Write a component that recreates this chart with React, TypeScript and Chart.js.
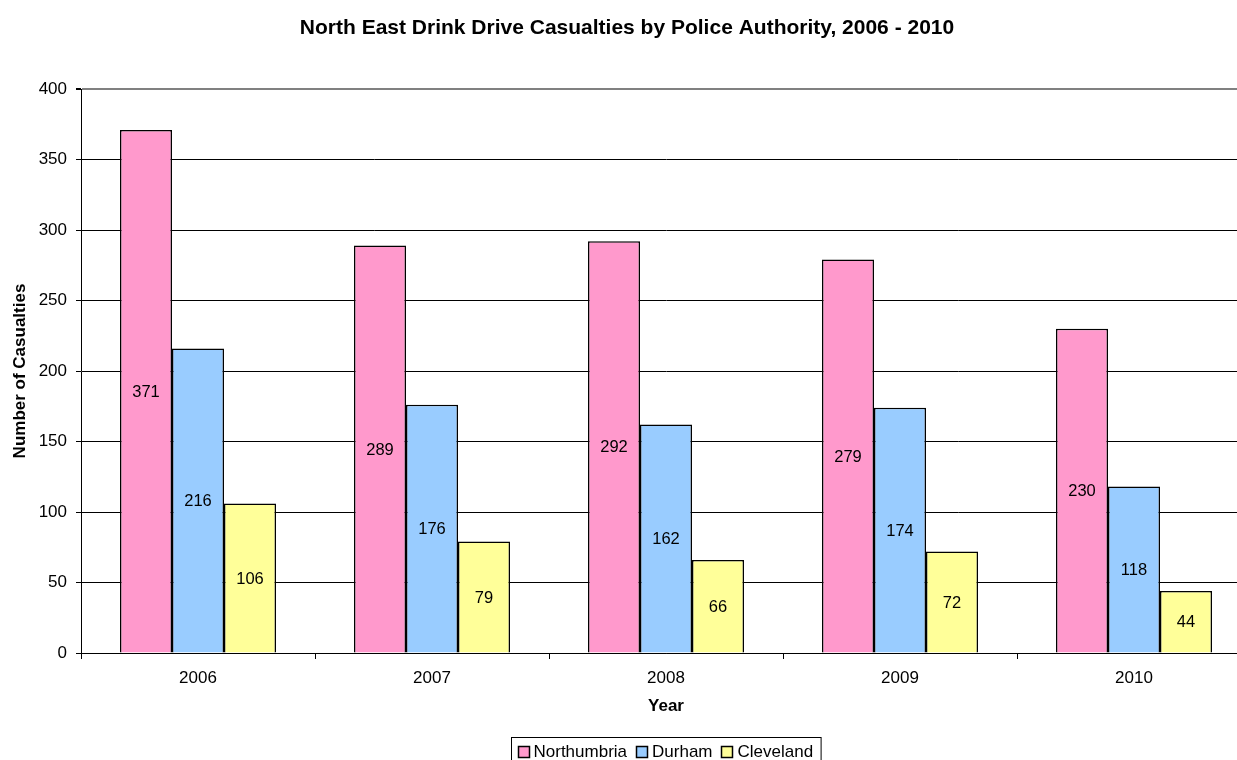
import React, { useEffect, useRef } from "react";
import { Chart, registerables } from "chart.js";

Chart.register(...registerables);

const years = ["2006", "2007", "2008", "2009", "2010"];
const northumbria = [371, 289, 292, 279, 230];
const durham = [216, 176, 162, 174, 118];
const cleveland = [106, 79, 66, 72, 44];
const seriesNames = ["Northumbria", "Durham", "Cleveland"];
const seriesColors = ["#FF99CC", "#99CCFF", "#FFFF99"];
const chartTitle = "North East Drink Drive Casualties by Police Authority, 2006 - 2010";
const xTitle = "Year";
const yTitle = "Number of Casualties";

const FONT = "'Liberation Sans', Arial, sans-serif";

// Heading centred over the visible page width
const titlePlugin = {
  id: "pageTitle",
  afterDraw(chart: any) {
    const ctx = chart.ctx;
    ctx.save();
    ctx.font = `bold 21px ${FONT}`;
    ctx.fillStyle = "#000";
    ctx.textAlign = "center";
    ctx.textBaseline = "middle";
    ctx.fillText(chartTitle, 627, 28);
    ctx.restore();
  },
};

// Value written in the middle of each bar
const valueLabels = {
  id: "valueLabels",
  afterDatasetsDraw(chart: any) {
    const ctx = chart.ctx;
    ctx.save();
    ctx.font = `16.5px ${FONT}`;
    ctx.fillStyle = "#000";
    ctx.textAlign = "center";
    ctx.textBaseline = "middle";
    chart.data.datasets.forEach((ds: any, di: number) => {
      const meta = chart.getDatasetMeta(di);
      meta.data.forEach((bar: any, i: number) => {
        const { x, y, base } = bar.getProps(["x", "y", "base"], true);
        ctx.fillText(String(ds.data[i]), x, (y + base) / 2 + 1);
      });
    });
    ctx.restore();
  },
};

// Boxed legend under the x-axis title
const boxedLegend = {
  id: "boxedLegend",
  afterDraw(chart: any) {
    const ctx = chart.ctx;
    const area = chart.chartArea;
    ctx.save();
    ctx.font = `17px ${FONT}`;
    const sq = 11;
    const gapSqText = 5;
    const gapItems = 9;
    const padL = 6;
    const padR = 8;
    const widths = chart.data.datasets.map((ds: any) => ctx.measureText(ds.label).width);
    let total = padL + padR;
    widths.forEach((w: number, i: number) => {
      total += sq + gapSqText + w + (i < widths.length - 1 ? gapItems : 0);
    });
    const cx = (area.left + area.right) / 2;
    const left = Math.round(cx - total / 2) + 0.5;
    const top = 737.5;
    const h = 28;
    ctx.strokeStyle = "#000";
    ctx.lineWidth = 1;
    ctx.fillStyle = "#fff";
    ctx.fillRect(left, top, total, h);
    ctx.strokeRect(left, top, total, h);
    let x = left + padL;
    const midY = 751;
    ctx.textBaseline = "middle";
    ctx.textAlign = "left";
    chart.data.datasets.forEach((ds: any, i: number) => {
      ctx.fillStyle = ds.backgroundColor;
      const sx = Math.round(x) + 0.5;
      const sy = Math.round(midY - sq / 2) + 0.5;
      ctx.fillRect(sx, sy, sq, sq);
      ctx.strokeStyle = "#000";
      ctx.lineWidth = 1.5;
      ctx.strokeRect(sx, sy, sq, sq);
      x += sq + gapSqText;
      ctx.fillStyle = "#000";
      ctx.fillText(ds.label, x, midY + 1);
      x += widths[i] + gapItems;
    });
    ctx.restore();
  },
};

export default function App() {
  const canvasRef = useRef<HTMLCanvasElement | null>(null);

  useEffect(() => {
    if (!canvasRef.current) return;
    const values = [northumbria, durham, cleveland];
    const chart = new Chart(canvasRef.current, {
      type: "bar",
      data: {
        labels: years,
        datasets: values.map((d, i) => ({
          label: seriesNames[i],
          data: d,
          backgroundColor: seriesColors[i],
          borderColor: "#000",
          borderWidth: 1.5,
          categoryPercentage: 2 / 3,
          barPercentage: 1,
        })),
      },
      options: {
        animation: false,
        responsive: false,
        maintainAspectRatio: false,
        layout: { padding: { left: 0, right: 19, top: 89, bottom: 53 } },
        plugins: {
          legend: { display: false },
          title: { display: false },
          tooltip: { enabled: false },
        },
        scales: {
          x: {
            offset: true,
            afterFit: (s: any) => {
              s.height = 64;
            },
            grid: {
              offset: true,
              drawOnChartArea: false,
              tickLength: 6,
              tickColor: "#000",
              color: "#000",
            },
            border: { color: "#000", width: 1 },
            ticks: {
              color: "#000",
              font: { family: FONT, size: 17 },
              padding: 9,
            },
            title: {
              display: true,
              text: xTitle,
              color: "#000",
              font: { family: FONT, size: 17, weight: "bold" },
              padding: { top: 0, bottom: 0 },
            },
          },
          y: {
            min: 0,
            max: 400,
            afterFit: (s: any) => {
              s.width = 81;
            },
            ticks: {
              stepSize: 50,
              color: "#000",
              font: { family: FONT, size: 17 },
              padding: 9,
            },
            grid: {
              color: (c: any) => (c.tick && c.tick.value === 400 ? "#808080" : "#000"),
              tickColor: "#000",
              tickLength: 5,
              lineWidth: (c: any) => (c.tick && c.tick.value === 400 ? 2 : 1),
            },
            border: { color: "#000", width: 1 },
            title: {
              display: true,
              text: yTitle,
              color: "#000",
              font: { family: FONT, size: 17, weight: "bold" },
              padding: { top: 10, bottom: 0 },
            },
          },
        },
      },
      plugins: [titlePlugin, valueLabels, boxedLegend],
    });
    return () => chart.destroy();
  }, []);

  return (
    <div
      style={{
        position: "absolute",
        left: 0,
        top: 0,
        width: 1237,
        height: 760,
        overflow: "hidden",
        background: "#fff",
      }}
    >
      <canvas ref={canvasRef} width={1270} height={770} style={{ display: "block" }} />
    </div>
  );
}
